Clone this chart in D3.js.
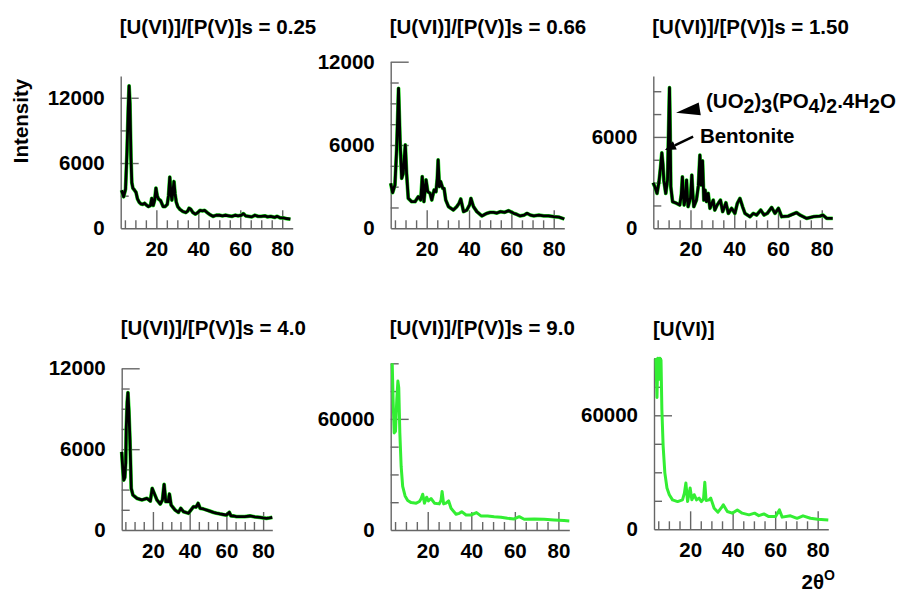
<!DOCTYPE html>
<html><head><meta charset="utf-8">
<script src="https://cdn.jsdelivr.net/npm/d3@7"></script>
<style>
body{margin:0;background:#fff}
svg{display:block}
text{font-family:"Liberation Sans",Arial,sans-serif;font-weight:bold;fill:#000}
</style>
</head><body>
<svg id="c" width="899" height="594"></svg>
<script>
// ---------- data ----------
const titles = ["[U(VI)]/[P(V)]s = 0.25","[U(VI)]/[P(V)]s = 0.66","[U(VI)]/[P(V)]s = 1.50",
                "[U(VI)]/[P(V)]s = 4.0","[U(VI)]/[P(V)]s = 9.0","[U(VI)]"];
const yMaxes = [14000,12000,10000,12000,90000,90000];
const yLabelTicks = [[0,6000,12000],[0,6000,12000],[0,6000],[0,6000,12000],[0,60000],[0,60000]];
const yMinorSteps = [3000,1500,1500,1500,15000,15000];
const xDomain = [3,85];
const xMajorTicks = [20,40,60,80];
const xMinorTicks = [5,10,15,25,30,35,45,50,55,65,70,75];
const xLabel = "2θ", xLabelSup = "O";
const yLabel = "Intensity";

const s025 = [[3.4,3500],[4.4,2900],[5.3,3600],[6.0,7000],[6.6,11000],[7.0,13100],[7.4,11500],[7.9,6500],[8.3,4200],[8.8,3700],[9.6,3500],[10.3,3300],[11.0,2700],[11.8,2400],[12.6,2250],[13.5,2200],[14.4,2300],[15.2,2150],[16.2,2000],[17.2,2100],[17.8,2750],[18.5,2100],[19.2,2600],[19.8,3700],[20.4,3000],[21.0,2700],[22.0,2550],[23.2,2000],[24.2,2000],[25.2,2200],[25.8,3000],[26.4,4700],[26.9,3300],[27.4,2600],[27.9,3400],[28.4,4300],[28.9,3200],[29.5,2400],[30.2,2000],[31.2,1750],[32.6,1550],[34.0,1450],[35.0,1600],[35.6,1850],[36.4,1750],[37.4,1450],[38.6,1300],[39.8,1450],[40.8,1650],[42.0,1600],[43.0,1650],[44.2,1450],[45.6,1250],[47.0,1100],[48.5,1200],[50.0,1200],[51.5,1150],[53.0,1200],[54.5,1150],[56.0,1100],[57.5,1200],[59.0,1150],[60.5,1200],[61.5,1350],[62.5,1150],[64.0,1100],[65.5,1050],[67.0,1200],[68.5,1100],[70.0,1100],[71.7,1150],[73.0,1050],[74.5,1100],[76.4,1000],[77.5,1100],[79.2,950],[80.5,950],[82.0,900],[83.9,850]];
const s066 = [[3.0,3240],[3.9,2570],[5.0,3120],[5.8,5640],[6.3,8000],[6.7,10080],[7.0,8500],[7.4,6360],[8.2,3600],[8.9,3960],[9.4,5000],[9.9,6000],[10.5,3960],[11.3,2160],[12.9,1920],[14.5,1920],[16.0,2280],[17.2,2040],[17.9,3720],[18.7,1920],[19.7,3480],[20.5,2640],[21.6,2520],[22.4,2040],[23.5,2760],[24.4,2640],[25.0,3600],[25.4,4920],[26.0,3000],[26.6,3360],[27.6,2880],[28.2,2880],[29.0,2040],[30.3,1560],[32.6,1320],[34.2,1560],[35.3,1800],[36.1,2110],[37.4,1200],[39.0,1320],[40.3,1700],[40.9,2160],[42.1,1560],[43.7,1200],[46.1,890],[48.4,1080],[50.0,1150],[51.6,1150],[53.2,1100],[54.8,1200],[56.8,1150],[58.7,1270],[61.1,1080],[62.6,1000],[64.2,890],[66.0,950],[67.4,1080],[69.0,950],[70.6,890],[73.0,950],[75.3,890],[77.5,900],[80.0,840],[82.5,800],[85.0,670]];
const s150 = [[2.9,2990],[3.7,2730],[4.7,2290],[5.6,3050],[6.3,4000],[6.9,4950],[7.4,4200],[7.8,3160],[8.7,2290],[9.5,3160],[10.0,6500],[10.4,9230],[10.7,6500],[11.0,2730],[11.8,1750],[13.6,1640],[15.1,1530],[15.8,2200],[16.3,3380],[16.7,2200],[17.1,1530],[17.7,2000],[18.2,3160],[18.6,2000],[18.9,1420],[20.0,2000],[20.6,3490],[21.1,2200],[21.5,1420],[22.7,1850],[23.6,2800],[24.3,4800],[24.7,3300],[24.9,2840],[25.5,4430],[26.1,1850],[26.7,2510],[27.3,1750],[28.1,2290],[28.9,1310],[30.4,1850],[31.1,1200],[32.2,1530],[33.7,1850],[34.7,1090],[36.2,1680],[37.3,980],[38.8,1310],[40.3,980],[41.4,1640],[42.6,1960],[43.8,1420],[44.9,980],[47.2,760],[48.7,980],[50.2,870],[52.1,1200],[53.6,870],[55.1,980],[57.1,1370],[58.6,980],[60.2,1310],[61.7,760],[64.7,800],[68.5,1030],[70.0,870],[73.1,650],[76.2,760],[79.2,800],[80.5,870],[82.3,650],[85.0,650]];
const s400 = [[3.0,5800],[3.6,4500],[4.1,3700],[4.7,3900],[5.2,5000],[5.5,7600],[6.0,9500],[6.4,10190],[6.9,8900],[7.5,6680],[8.2,3090],[9.1,2600],[11.3,2350],[14.0,2230],[16.7,2350],[18.6,2150],[19.6,3090],[20.7,2720],[22.2,2230],[24.0,1930],[25.2,2230],[26.1,3390],[27.0,2100],[28.3,2100],[29.0,2670],[29.9,1850],[32.1,1480],[33.9,1310],[35.2,1610],[36.6,1360],[39.3,1240],[42.1,1730],[43.5,1700],[44.6,1980],[45.7,1610],[47.5,1560],[49.3,1480],[51.0,1400],[52.9,1310],[54.5,1250],[56.5,1190],[58.3,1150],[60.1,1110],[61.6,1310],[62.5,1050],[63.7,1040],[65.5,1000],[67.4,990],[70.0,1000],[72.8,1040],[75.5,980],[78.2,940],[80.0,900],[81.8,870],[83.5,900],[85.0,940]];
const s900 = [[3.7,90000],[4.1,70500],[4.6,52400],[5.2,53300],[5.8,70500],[6.3,80400],[6.7,76800],[7.2,52400],[7.8,34300],[8.5,23500],[9.6,18400],[10.8,15900],[12.4,14800],[14.7,14500],[16.2,15400],[17.0,17000],[17.7,19300],[18.5,14500],[19.5,17700],[20.3,15700],[21.5,17000],[23.1,14500],[25.3,14100],[26.1,16000],[26.6,20800],[27.3,14100],[28.4,14500],[29.6,15700],[30.7,11700],[33.0,8500],[34.5,9000],[35.6,9900],[37.6,8100],[39.8,8100],[42.4,9400],[44.4,7600],[47.5,7600],[50.5,7200],[53.6,6900],[56.6,6300],[59.7,6000],[62.0,7200],[64.3,5800],[68.9,6000],[73.4,5800],[78.0,5400],[82.6,5100],[85.0,4880]];
const sU = [[3.9,90000],[4.4,69400],[4.8,90000],[5.3,79000],[5.8,90000],[6.3,89000],[6.7,63200],[7.3,43800],[8.1,29700],[9.1,21700],[10.2,18200],[11.7,15500],[14.1,14600],[16.4,15500],[17.3,19000],[18.0,24400],[18.8,14600],[20.0,21700],[20.8,15500],[21.9,18200],[23.0,15500],[24.2,16400],[25.3,14600],[26.3,16000],[26.9,24700],[27.5,15200],[28.9,15500],[29.7,16400],[31.3,11100],[33.1,9000],[34.8,11500],[35.6,12900],[37.5,9350],[39.8,8500],[42.2,10200],[44.5,8500],[47.7,7600],[50.3,8500],[52.3,7200],[54.7,8100],[57.0,6700],[60.2,6700],[62.0,10200],[63.3,6400],[67.2,7100],[70.3,5800],[73.1,7100],[76.6,5800],[80.0,5300],[85.0,4900]];
const series = [s025,s066,s150,s400,s900,sU];
const greenOnly = [false,false,false,false,true,true];

// annotations (data coords of panel 3)
const annFormula = [["(UO",0],["2",1],[")",0],["3",1],["(PO",0],["4",1],[")",0],["2",1],[".4H",0],["2",1],["O",0]];
const annotations = [
  {panel:2, parts:annFormula, tx:27.1, ty:7900, from:[24.3,7840], to:[13.4,7590], big:true},
  {panel:2, parts:[["Bentonite",0]], tx:24.3, ty:5580, from:[21.2,6015], to:[8.3,5140], big:false}
];

// ---------- layout ----------
const layout = [
  {l:120.7,r:292.7,t:76,  b:228.3, tb:33.5},
  {l:390.7,r:564.3,t:61.7,b:228.3, tb:33.5},
  {l:653.3,r:832.7,t:76,  b:228.3, tb:33.5},
  {l:121.7,r:272.3,t:368.3,b:530,  tb:335},
  {l:390.7,r:569.3,t:363.3,b:530,  tb:335},
  {l:654,  r:828.3,t:358.3,b:529.3,tb:335.5}
];
const axisColor = "#666";
const green = "#33ee33";
const FS = 20.5;

const svg = d3.select("#c");
const scales = [];

layout.forEach((L,i)=>{
  const x = d3.scaleLinear().domain(xDomain).range([L.l,L.r]);
  const y = d3.scaleLinear().domain([0,yMaxes[i]]).range([L.b,L.t]);
  scales.push({x,y});
  const g = svg.append("g");

  g.append("g").attr("transform",`translate(0,${L.b})`)
    .call(d3.axisBottom(x).tickValues(xMinorTicks).tickSize(-8).tickSizeOuter(0).tickFormat(""))
    .call(a=>a.select(".domain").remove());
  g.append("g").attr("transform",`translate(0,${L.b})`)
    .call(d3.axisBottom(x).tickValues(xMajorTicks).tickSize(-18).tickSizeOuter(0).tickPadding(13).tickFormat(d3.format("d")))
    .call(a=>a.selectAll("text").attr("font-size",FS).attr("fill","#000"));

  const minor = d3.range(yMinorSteps[i], yMaxes[i]+1, yMinorSteps[i]).filter(v=>!yLabelTicks[i].includes(v));
  g.append("g").attr("transform",`translate(${L.l},0)`)
    .call(d3.axisLeft(y).tickValues(minor).tickSize(-8).tickSizeOuter(0).tickFormat(""))
    .call(a=>a.select(".domain").remove());
  g.append("g").attr("transform",`translate(${L.l},0)`)
    .call(d3.axisLeft(y).tickValues(yLabelTicks[i]).tickSize(-18).tickSizeOuter(0).tickPadding(16).tickFormat(d3.format("d")))
    .call(a=>a.selectAll("text").attr("font-size",FS).attr("fill","#000"))
    .call(a=>a.selectAll(".tick").filter(d=>d===0).select("line").remove());

  g.selectAll(".domain,.tick line").attr("stroke",axisColor).attr("stroke-width",1.4);
  g.selectAll(".tick text").style("font-family",'"Liberation Sans",Arial,sans-serif').style("font-weight","bold");

  const line = d3.line().x(d=>x(d[0])).y(d=>y(Math.min(d[1],yMaxes[i])));
  if(greenOnly[i]){
    g.append("path").datum(series[i]).attr("d",line).attr("fill","none")
      .attr("stroke",green).attr("stroke-width",3).attr("stroke-linejoin","round");
  } else {
    g.append("path").datum(series[i]).attr("d",line).attr("fill","none")
      .attr("stroke","#22e622").attr("stroke-width",3.8).attr("stroke-linejoin","round");
    g.append("path").datum(series[i]).attr("d",line).attr("fill","none")
      .attr("stroke","#000").attr("stroke-width",2.8).attr("stroke-linejoin","round");
  }

  g.append("text").attr("x",L.l-1).attr("y",L.tb).attr("font-size",FS).text(titles[i]);
});

svg.append("text").attr("transform","translate(28,121) rotate(-90)")
  .attr("text-anchor","middle").attr("font-size",FS).text(yLabel);

const xl = svg.append("text").attr("x",801.5).attr("y",589).attr("font-size",FS);
xl.append("tspan").text(xLabel);
xl.append("tspan").attr("font-size",14).attr("dy",-9).text(xLabelSup);

annotations.forEach(a=>{
  const {x,y} = scales[a.panel];
  const t = svg.append("text").attr("x",x(a.tx)).attr("y",y(a.ty)).attr("font-size",FS);
  let sub=false;
  a.parts.forEach(([s,isSub])=>{
    const ts = t.append("tspan").text(s);
    if(isSub && !sub){ts.attr("dy",5).attr("font-size",19.5); sub=true;}
    else if(isSub && sub){ts.attr("font-size",19.5);}
    else if(!isSub && sub){ts.attr("dy",-5); sub=false;}
  });
  const x1=x(a.from[0]), y1=y(a.from[1]), x2=x(a.to[0]), y2=y(a.to[1]);
  const dx=x2-x1, dy=y2-y1, len=Math.hypot(dx,dy), ux=dx/len, uy=dy/len;
  const hl = a.big?24:11, hw = a.big?6.5:4.5;
  const bx=x2-ux*hl, by=y2-uy*hl;
  if(!a.big){
    svg.append("line").attr("x1",x1).attr("y1",y1).attr("x2",bx).attr("y2",by)
      .attr("stroke","#000").attr("stroke-width",2.5);
  }
  svg.append("path").attr("fill","#000")
    .attr("d",`M${x2},${y2}L${bx-uy*hw},${by+ux*hw}L${bx+uy*hw},${by-ux*hw}Z`);
});
</script>
</body></html>
